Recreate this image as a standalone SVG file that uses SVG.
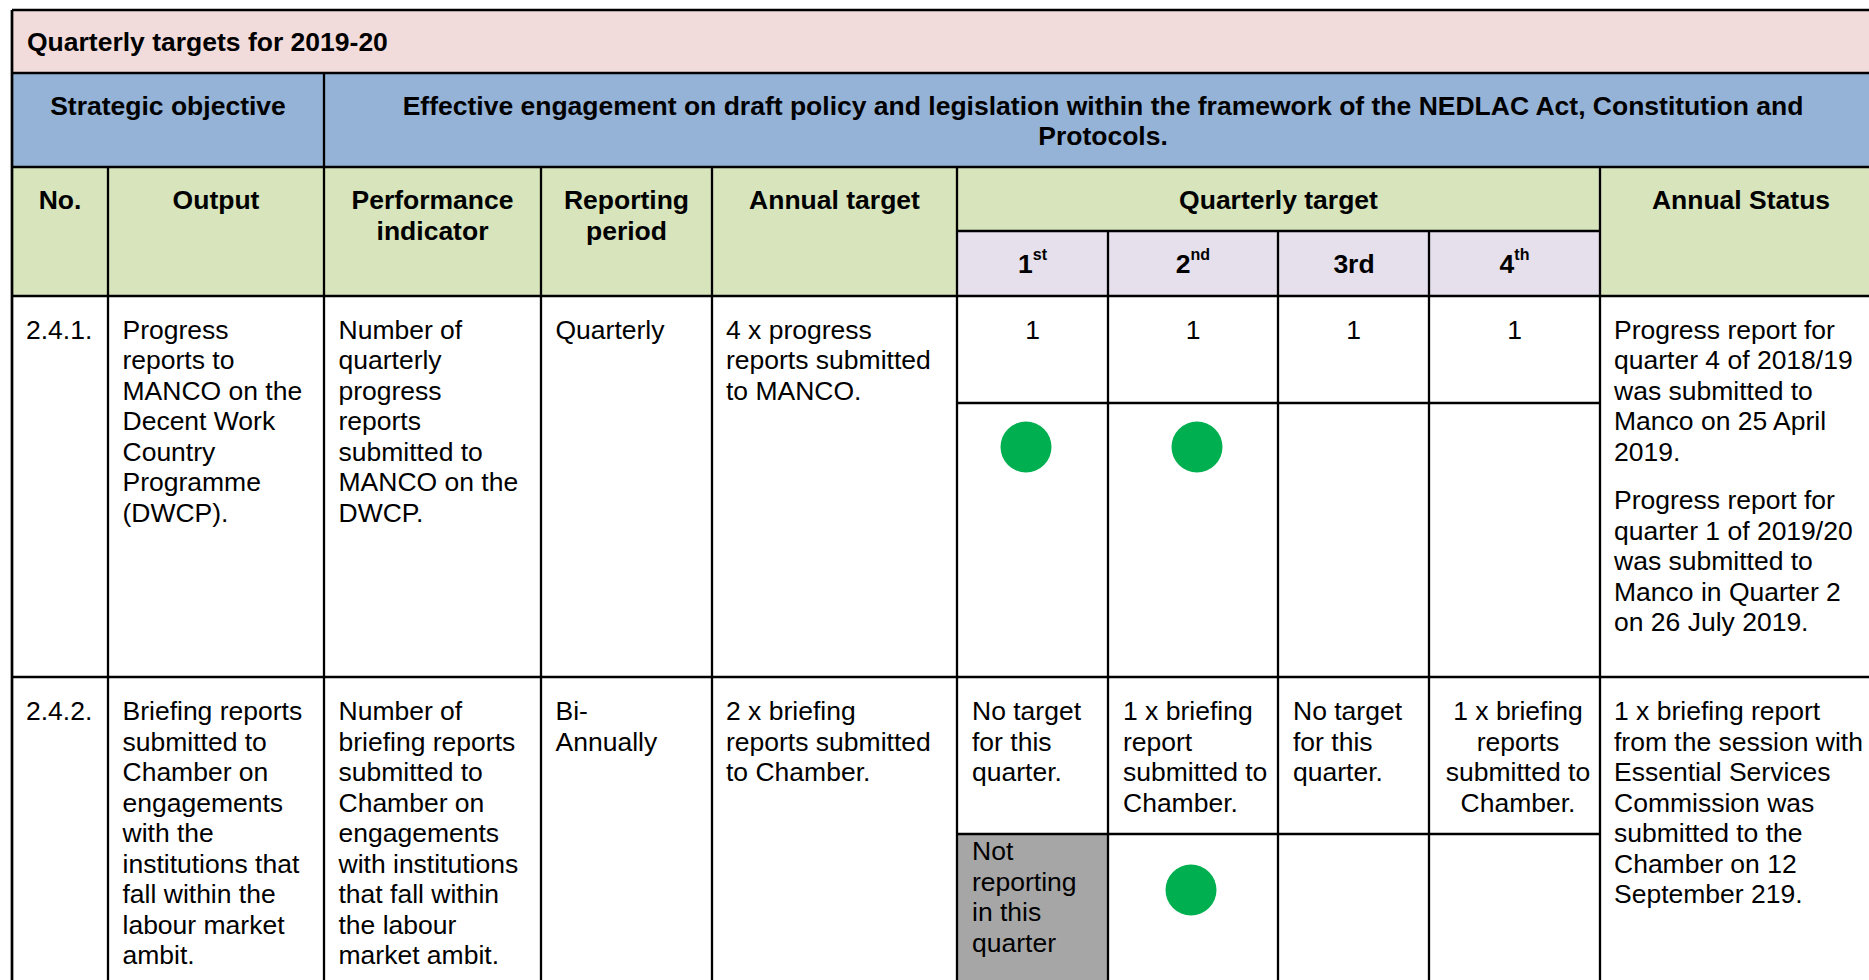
<svg xmlns="http://www.w3.org/2000/svg" width="1869" height="980" viewBox="0 0 1869 980">
<style>
.t{font-family:"Liberation Sans",Arial,Helvetica,sans-serif;font-size:26.5px;fill:#000}
.b{font-weight:bold}
.c{text-anchor:middle}
.sup{font-size:16px}
.ln{stroke:#000;stroke-width:2.3;fill:none}
.ol{stroke:#000;stroke-width:2.7;fill:none}
.dot{fill:#00B050}
</style>
<rect x="0" y="0" width="1869" height="980" fill="#fff"/>
<g id="fills">
<rect x="12" y="10" width="1870" height="63" fill="#F2DCDB"/>
<rect x="12" y="73" width="1870" height="94" fill="#95B3D7"/>
<rect x="12" y="167" width="1870" height="129" fill="#D7E4BC"/>
<rect x="957" y="231" width="643" height="65" fill="#E5E0EC"/>
<rect x="957" y="834" width="151" height="160" fill="#A6A6A6"/>
</g>
<g id="connectors">
<line class="ol" x1="12" y1="10" x2="1882" y2="10"/>
<line class="ol" x1="12" y1="10" x2="12" y2="995"/>
<line class="ln" x1="12" y1="73" x2="1882" y2="73"/>
<line class="ln" x1="12" y1="167" x2="1882" y2="167"/>
<line class="ln" x1="12" y1="296" x2="1882" y2="296"/>
<line class="ln" x1="12" y1="677" x2="1882" y2="677"/>
<line class="ln" x1="957" y1="231" x2="1600" y2="231"/>
<line class="ln" x1="957" y1="403" x2="1600" y2="403"/>
<line class="ln" x1="957" y1="834" x2="1600" y2="834"/>
<line class="ln" x1="324" y1="73" x2="324" y2="995"/>
<line class="ln" x1="108" y1="167" x2="108" y2="995"/>
<line class="ln" x1="541" y1="167" x2="541" y2="995"/>
<line class="ln" x1="712" y1="167" x2="712" y2="995"/>
<line class="ln" x1="957" y1="167" x2="957" y2="995"/>
<line class="ln" x1="1600" y1="167" x2="1600" y2="995"/>
<line class="ln" x1="1108" y1="231" x2="1108" y2="995"/>
<line class="ln" x1="1278" y1="231" x2="1278" y2="995"/>
<line class="ln" x1="1429" y1="231" x2="1429" y2="995"/>
</g>
<g id="title"><text class="t b" x="27" y="51">Quarterly targets for 2019-20</text></g>
<g id="objective">
<text class="t b c" x="168" y="115">Strategic objective</text>
<text class="t b c" x="1103" y="115">Effective engagement on draft policy and legislation within the framework of the NEDLAC Act, Constitution and</text>
<text class="t b c" x="1103" y="145">Protocols.</text>
</g>
<g id="header">
<text class="t b c" x="60" y="209">No.</text>
<text class="t b c" x="216" y="209">Output</text>
<text class="t b c" x="432.5" y="209">Performance<tspan x="432.5" dy="30.5">indicator</tspan></text>
<text class="t b c" x="626.5" y="209">Reporting<tspan x="626.5" dy="30.5">period</tspan></text>
<text class="t b c" x="834.5" y="209">Annual target</text>
<text class="t b c" x="1278.5" y="209">Quarterly target</text>
<text class="t b c" x="1741" y="209">Annual Status</text>
<text class="t b c" x="1032.5" y="273">1<tspan class="sup" dy="-13">st</tspan></text>
<text class="t b c" x="1193" y="273">2<tspan class="sup" dy="-13">nd</tspan></text>
<text class="t b c" x="1354" y="273">3rd</text>
<text class="t b c" x="1514.5" y="273">4<tspan class="sup" dy="-13">th</tspan></text>
</g>
<g id="row-2-4-1">
<text class="t" x="26" y="338.5">2.4.1.</text>
<text class="t" x="122.5" y="338.5">Progress<tspan x="122.5" dy="30.5">reports to</tspan><tspan x="122.5" dy="30.5">MANCO on the</tspan><tspan x="122.5" dy="30.5">Decent Work</tspan><tspan x="122.5" dy="30.5">Country</tspan><tspan x="122.5" dy="30.5">Programme</tspan><tspan x="122.5" dy="30.5">(DWCP).</tspan></text>
<text class="t" x="338.5" y="338.5">Number of<tspan x="338.5" dy="30.5">quarterly</tspan><tspan x="338.5" dy="30.5">progress</tspan><tspan x="338.5" dy="30.5">reports</tspan><tspan x="338.5" dy="30.5">submitted to</tspan><tspan x="338.5" dy="30.5">MANCO on the</tspan><tspan x="338.5" dy="30.5">DWCP.</tspan></text>
<text class="t" x="555.5" y="338.5">Quarterly</text>
<text class="t" x="726" y="338.5">4 x progress<tspan x="726" dy="30.5">reports submitted</tspan><tspan x="726" dy="30.5">to MANCO.</tspan></text>
<text class="t c" x="1032.5" y="338.5">1</text>
<text class="t c" x="1193" y="338.5">1</text>
<text class="t c" x="1353.5" y="338.5">1</text>
<text class="t c" x="1514.5" y="338.5">1</text>
<circle class="dot" cx="1026" cy="447" r="25.5"/>
<circle class="dot" cx="1197" cy="447" r="25.5"/>
<text class="t" x="1614" y="338.5">Progress report for<tspan x="1614" dy="30.5">quarter 4 of 2018/19</tspan><tspan x="1614" dy="30.5">was submitted to</tspan><tspan x="1614" dy="30.5">Manco on 25 April</tspan><tspan x="1614" dy="30.5">2019.</tspan></text>
<text class="t" x="1614" y="509">Progress report for<tspan x="1614" dy="30.5">quarter 1 of 2019/20</tspan><tspan x="1614" dy="30.5">was submitted to</tspan><tspan x="1614" dy="30.5">Manco in Quarter 2</tspan><tspan x="1614" dy="30.5">on 26 July 2019.</tspan></text>
</g>
<g id="row-2-4-2">
<text class="t" x="26" y="720">2.4.2.</text>
<text class="t" x="122.5" y="720">Briefing reports<tspan x="122.5" dy="30.5">submitted to</tspan><tspan x="122.5" dy="30.5">Chamber on</tspan><tspan x="122.5" dy="30.5">engagements</tspan><tspan x="122.5" dy="30.5">with the</tspan><tspan x="122.5" dy="30.5">institutions that</tspan><tspan x="122.5" dy="30.5">fall within the</tspan><tspan x="122.5" dy="30.5">labour market</tspan><tspan x="122.5" dy="30.5">ambit.</tspan></text>
<text class="t" x="338.5" y="720">Number of<tspan x="338.5" dy="30.5">briefing reports</tspan><tspan x="338.5" dy="30.5">submitted to</tspan><tspan x="338.5" dy="30.5">Chamber on</tspan><tspan x="338.5" dy="30.5">engagements</tspan><tspan x="338.5" dy="30.5">with institutions</tspan><tspan x="338.5" dy="30.5">that fall within</tspan><tspan x="338.5" dy="30.5">the labour</tspan><tspan x="338.5" dy="30.5">market ambit.</tspan></text>
<text class="t" x="555.5" y="720">Bi-<tspan x="555.5" dy="30.5">Annually</tspan></text>
<text class="t" x="726" y="720">2 x briefing<tspan x="726" dy="30.5">reports submitted</tspan><tspan x="726" dy="30.5">to Chamber.</tspan></text>
<text class="t" x="972" y="720">No target<tspan x="972" dy="30.5">for this</tspan><tspan x="972" dy="30.5">quarter.</tspan></text>
<text class="t" x="1123" y="720">1 x briefing<tspan x="1123" dy="30.5">report</tspan><tspan x="1123" dy="30.5">submitted to</tspan><tspan x="1123" dy="30.5">Chamber.</tspan></text>
<text class="t" x="1293" y="720">No target<tspan x="1293" dy="30.5">for this</tspan><tspan x="1293" dy="30.5">quarter.</tspan></text>
<text class="t c" x="1518" y="720">1 x briefing<tspan x="1518" dy="30.5">reports</tspan><tspan x="1518" dy="30.5">submitted to</tspan><tspan x="1518" dy="30.5">Chamber.</tspan></text>
<text class="t" x="972" y="860">Not<tspan x="972" dy="30.5">reporting</tspan><tspan x="972" dy="30.5">in this</tspan><tspan x="972" dy="30.5">quarter</tspan></text>
<circle class="dot" cx="1191" cy="890" r="25.5"/>
<text class="t" x="1614" y="720">1 x briefing report<tspan x="1614" dy="30.5">from the session with</tspan><tspan x="1614" dy="30.5">Essential Services</tspan><tspan x="1614" dy="30.5">Commission was</tspan><tspan x="1614" dy="30.5">submitted to the</tspan><tspan x="1614" dy="30.5">Chamber on 12</tspan><tspan x="1614" dy="30.5">September 219.</tspan></text>
</g>
</svg>
